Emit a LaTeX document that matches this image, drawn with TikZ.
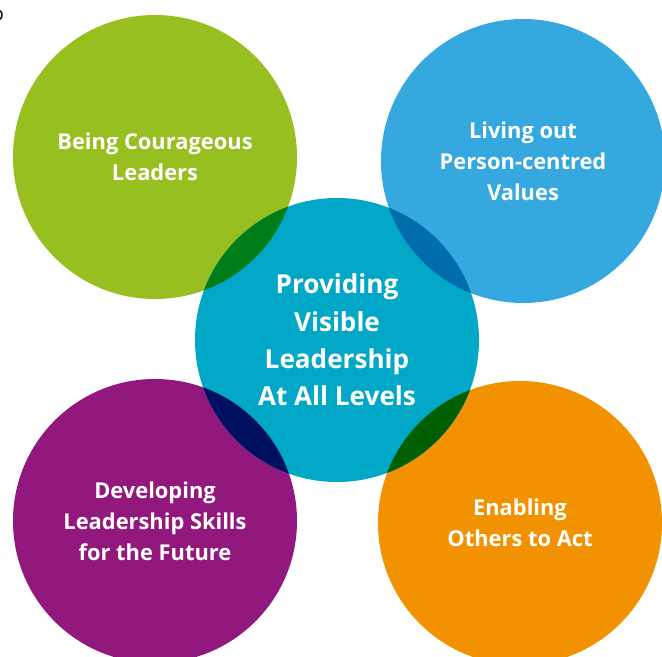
\documentclass[tikz,border=0pt]{standalone}
\usepackage{fontspec}
\setmainfont{Open Sans}
\usepackage{xcolor}
\definecolor{lime1}{HTML}{97BF1F}
\definecolor{sky1}{HTML}{35A8E0}
\definecolor{teal1}{HTML}{00A7C6}
\definecolor{plum1}{HTML}{93187E}
\definecolor{amber1}{HTML}{F39200}
\definecolor{lensgreen}{HTML}{007D18}
\definecolor{lensblue}{HTML}{006CAB}
\definecolor{lensnavy}{HTML}{001060}
\definecolor{lensdark}{HTML}{005F00}
\usepackage{tikz}
\usetikzlibrary{positioning}
\tikzset{
  bubble/.style = {circle, minimum size=213pt, inner sep=0pt,
                   text=white, align=center,
                   font=\fontsize{16.4}{23.3}\selectfont\bfseries},
  hubble/.style = {bubble, fill=teal1}
}

\begin{document}
\begin{tikzpicture}[x=0.75pt, y=-0.75pt]
  \useasboundingbox (0,0) rectangle (662,657);
  \def\R{106.5pt}
  % outer ring of values
  \node[bubble, fill=lime1]  (courage) at (155,157) {Being Courageous\\Leaders};
  \node[bubble, fill=sky1]   (values)  at (523,161) {Living out\\Person-centred\\Values};
  \node[bubble, fill=plum1]  (skills)  at (155,521) {Developing\\Leadership Skills\\for the Future};
  \node[bubble, fill=amber1] (enable)  at (520,523) {Enabling\\Others to Act};
  % centre circle
  \node[hubble] (hub) at (337,340) {};
  \foreach \n/\c in {courage/lensgreen,values/lensblue,skills/lensnavy,enable/lensdark}
  {
    \begin{scope}
      \clip (hub) circle[radius=\R];
      \fill[\c] (\n) circle[radius=\R];
    \end{scope}
  }
  \node[text=white, align=center, font=\fontsize{19.6}{28}\selectfont\bfseries]
       (hubtext) at (hub) {Providing\\Visible\\Leadership\\At All Levels};
  \node[anchor=east, inner sep=0pt, font=\fontsize{14}{16}\selectfont] (tag) at (4,18) {p};
\end{tikzpicture}
\end{document}
